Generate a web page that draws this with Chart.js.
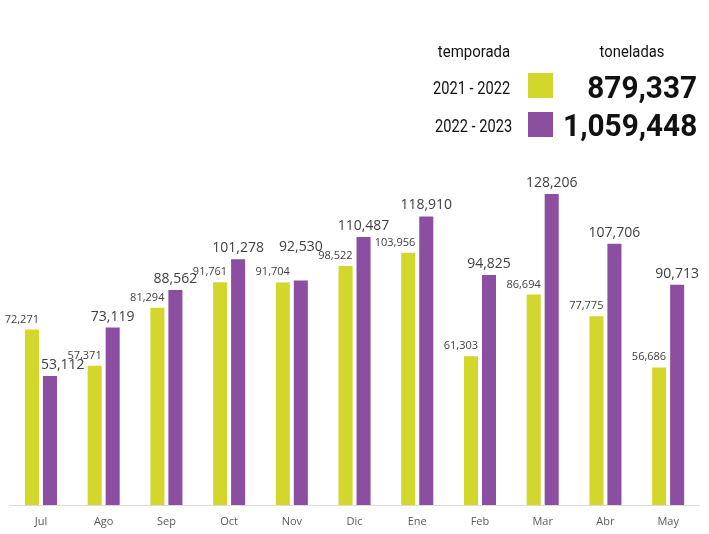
<!DOCTYPE html>
<html>
<head>
<meta charset="utf-8">
<script src="https://cdn.jsdelivr.net/npm/chart.js@4.4.0/dist/chart.umd.min.js"></script>
<style>
  html, body { margin: 0; padding: 0; background: #ffffff; }
  #wrap { position: relative; width: 709px; height: 534px; overflow: hidden; }
  #chart { position: absolute; left: 0; top: 0; }
  .lg { position: absolute; white-space: nowrap; line-height: 1; font-family: Roboto, "Noto Sans", sans-serif; color: #111; }
  .sw { position: absolute; width: 25px; height: 25px; }
</style>
</head>
<body>
<div id="wrap">
  <canvas id="chart" width="709" height="534"></canvas>
  <div class="lg" id="hTemp" style="font-size:17px; left:474px; top:42.7px; transform:translateX(-50%) scaleX(0.88);">temporada</div>
  <div class="lg" id="hTon" style="font-size:17px; left:632px; top:42.7px; transform:translateX(-50%) scaleX(0.87);">toneladas</div>
  <div class="lg" id="s1" style="font-size:19px; right:199px; top:77.8px; transform-origin:right top; transform:scaleX(0.77);"></div>
  <div class="lg" id="s2" style="font-size:19px; right:197px; top:115.8px; transform-origin:right top; transform:scaleX(0.77);"></div>
  <div class="sw" id="sw1" style="left:528px; top:73px;"></div>
  <div class="sw" id="sw2" style="left:528px; top:112px;"></div>
  <div class="lg" id="t1" style="font-size:32px; font-weight:700; right:12px; top:70.8px; transform-origin:right top; transform:scaleX(0.93);"></div>
  <div class="lg" id="t2" style="font-size:32px; font-weight:700; right:12px; top:108.8px; transform-origin:right top; transform:scaleX(0.93);"></div>
</div>
<script>
const months = ["Jul", "Ago", "Sep", "Oct", "Nov", "Dic", "Ene", "Feb", "Mar", "Abr", "May"];
const seasons = ["2021 - 2022", "2022 - 2023"];
const season2122 = [72271, 57371, 81294, 91761, 91704, 98522, 103956, 61303, 86694, 77775, 56686];
const season2223 = [53112, 73119, 88562, 101278, 92530, 110487, 118910, 94825, 128206, 107706, 90713];
const totals = [879337, 1059448];
const colors = ["#D3D72B", "#8C4EA0"];

const fmt = v => v.toLocaleString("en-US");

document.getElementById("s1").textContent = seasons[0];
document.getElementById("s2").textContent = seasons[1];
document.getElementById("t1").textContent = fmt(totals[0]);
document.getElementById("t2").textContent = fmt(totals[1]);
document.getElementById("sw1").style.background = colors[0];
document.getElementById("sw2").style.background = colors[1];

const labelFonts = ["11px 'Open Sans'", "14px 'Open Sans'"];
const capH = [8, 10];

const valueLabels = {
  id: "valueLabels",
  afterDatasetsDraw(chart) {
    const ctx = chart.ctx;
    const m0 = chart.getDatasetMeta(0);
    const m1 = chart.getDatasetMeta(1);
    ctx.save();
    ctx.fillStyle = "#404040";
    ctx.textBaseline = "alphabetic";
    for (let i = 0; i < months.length; i++) {
      const g = m0.data[i];
      const p = m1.data[i];
      // green: right-aligned to bar right edge
      ctx.font = labelFonts[0];
      const gText = fmt(season2122[i]);
      const gW = ctx.measureText(gText).width;
      const gRight = g.x + g.width / 2;
      const gBase = g.y - 7;
      ctx.textAlign = "right";
      ctx.fillText(gText, gRight, gBase);
      // purple: centered
      ctx.font = labelFonts[1];
      const pText = fmt(season2223[i]);
      const pW = ctx.measureText(pText).width;
      let pBase = p.y - 7;
      let pX = p.x;
      const xOverlap = (pX - pW / 2) < gRight && (pX + pW / 2) > (gRight - gW);
      const yOverlap = (pBase - capH[1]) < gBase && pBase > (gBase - capH[0]);
      if (xOverlap && yOverlap) {
        pBase = gBase - capH[0] - 16;
      }
      // keep purple label off the green bar when it sits lower than the green bar top
      if (pBase - capH[1] > g.y && (pX - pW / 2) < gRight + 2) {
        pX = gRight + 2 + pW / 2;
      }
      ctx.textAlign = "center";
      ctx.fillText(pText, pX, pBase);
    }
    ctx.restore();
  }
};

new Chart(document.getElementById("chart"), {
  type: "bar",
  data: {
    labels: months,
    datasets: [
      { label: seasons[0], data: season2122, backgroundColor: colors[0] },
      { label: seasons[1], data: season2223, backgroundColor: colors[1] }
    ]
  },
  options: {
    responsive: false,
    animation: false,
    devicePixelRatio: 1,
    layout: { padding: { left: 9.6, right: 9.5, top: 141, bottom: 0 } },
    datasets: { bar: { categoryPercentage: 0.574, barPercentage: 0.78 } },
    plugins: { legend: { display: false }, tooltip: { enabled: false } },
    scales: {
      x: {
        grid: { display: false, drawTicks: false },
        border: { display: true, color: "#dcdcdc", width: 1 },
        ticks: { color: "#595959", font: { family: "'Open Sans'", size: 11 }, padding: 10 },
        afterFit(scale) { scale.height = 29; }
      },
      y: { display: false, min: 0, max: 150000 }
    }
  },
  plugins: [valueLabels]
});
</script>
</body>
</html>
